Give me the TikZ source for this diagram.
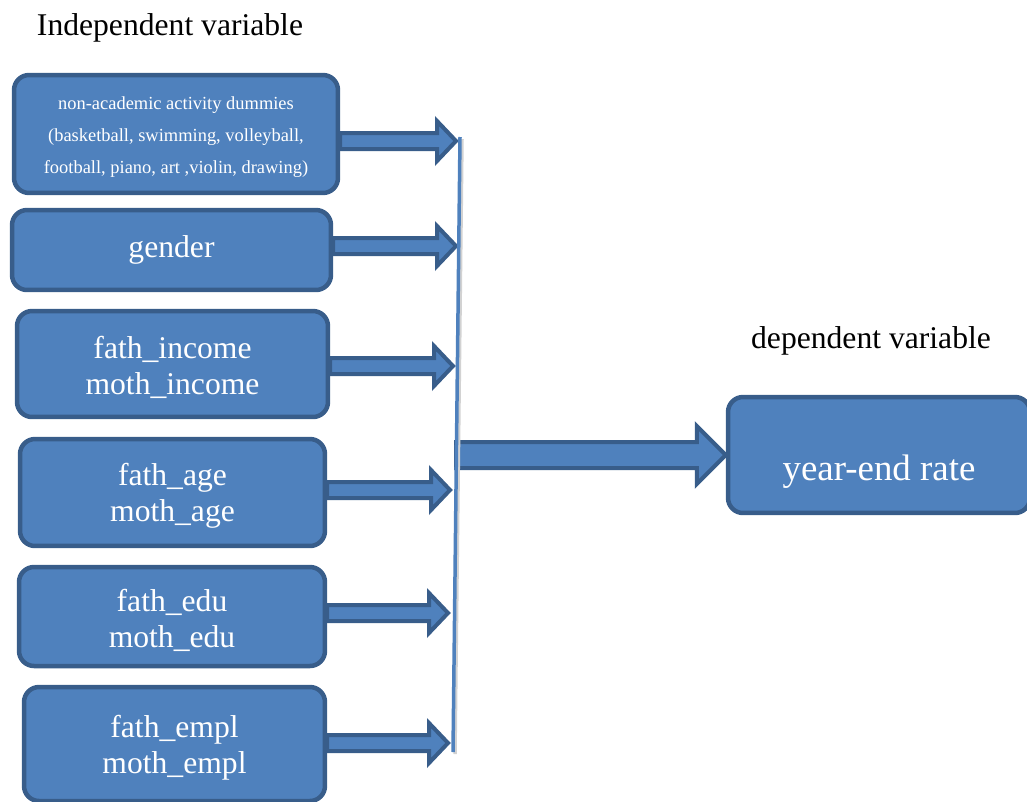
\documentclass[tikz,border=0pt]{standalone}
\usepackage{fontspec}
\setmainfont{Liberation Serif}
\usetikzlibrary{calc}

\definecolor{boxblue}{HTML}{4F81BD}
\definecolor{edgeblue}{HTML}{385D8A}

% block arrow: start, tip, shaft half width, head half width, head length (px)
\newcommand\blockarrow[5]{%
  \draw[arrowbody] ($(#1)+(0,#3)$) -- ($(#2)+(-#5,#3)$) -- ($(#2)+(-#5,#4)$)
    -- (#2) -- ($(#2)+(-#5,-#4)$) -- ($(#2)+(-#5,-#3)$) -- ($(#1)+(0,-#3)$) -- cycle;}
% taller first line, to sit the text a little lower
\newcommand\lift[1]{\rule{0pt}{#1}}

\begin{document}
\begin{tikzpicture}[x=0.02cm,y=-0.02cm,
    varbox/.style={draw=edgeblue,fill=boxblue,line width=0.09cm,rounded corners=0.3cm,
      text=white,align=center,inner sep=0pt,font=\fontsize{18}{20.5}\selectfont},
    arrowbody/.style={draw=edgeblue,fill=boxblue,line width=0.08cm,line join=miter},
    headline/.style={font=\fontsize{18}{21}\selectfont}]
  \useasboundingbox (0,0) rectangle (1027,801);

  \node[headline] (indep) at (170,28) {Independent variable};
  \node[headline] (dep) at (871,341) {dependent variable};

  \node[varbox,minimum width=6.48cm,minimum height=2.36cm,font=\fontsize{10.5}{18.2}\selectfont]
    (b1) at (176,134) {\lift{10.4pt}non-academic activity dummies\\(basketball, swimming, volleyball,\\football, piano, art ,violin, drawing)};
  \node[varbox,minimum width=6.38cm,minimum height=1.60cm] (b2) at (171.5,250) {gender};
  \node[varbox,minimum width=6.22cm,minimum height=2.12cm] (b3) at (172.5,364) {\lift{16.7pt}fath\_income\\moth\_income};
  \node[varbox,minimum width=6.10cm,minimum height=2.14cm] (b4) at (172.5,492.5) {\lift{16.7pt}fath\_age\\moth\_age};
  \node[varbox,minimum width=6.12cm,minimum height=1.98cm] (b5) at (172,616.5) {\lift{16.7pt}fath\_edu\\moth\_edu};
  \node[varbox,minimum width=6.02cm,minimum height=2.28cm] (b6) at (174.5,744) {\lift{16.7pt}fath\_empl\\moth\_empl};
  \node[varbox,minimum width=6.04cm,minimum height=2.32cm,font=\fontsize{21}{24}\selectfont,
    text height=1.16cm,text depth=0.16cm] (tgt) at (879,455) {year-end rate};

  % small arrows into the bar
  \foreach \b/\x/\y in {b1/456/141,b2/456/246,b3/453/366,b4/450/490,b5/448/613,b6/448/743} {
    \coordinate (tip) at (\x,\y);
    \coordinate (tail) at (\b.east |- tip);
    \blockarrow{tail}{tip}{8}{20}{19}
  }

  % big arrow to the outcome
  \coordinate (mid) at (456,455);
  \blockarrow{mid}{tgt.west}{13}{29}{29}

  % the collecting bar
  \coordinate (bartop) at (460,137);
  \coordinate (barbot) at (453,752);
  \draw[gray!35,line width=0.07cm] ($(bartop)+(2,2)$) -- ($(barbot)+(2,2)$);
  \draw[boxblue,line width=0.07cm] (bartop) -- (barbot);
\end{tikzpicture}
\end{document}
